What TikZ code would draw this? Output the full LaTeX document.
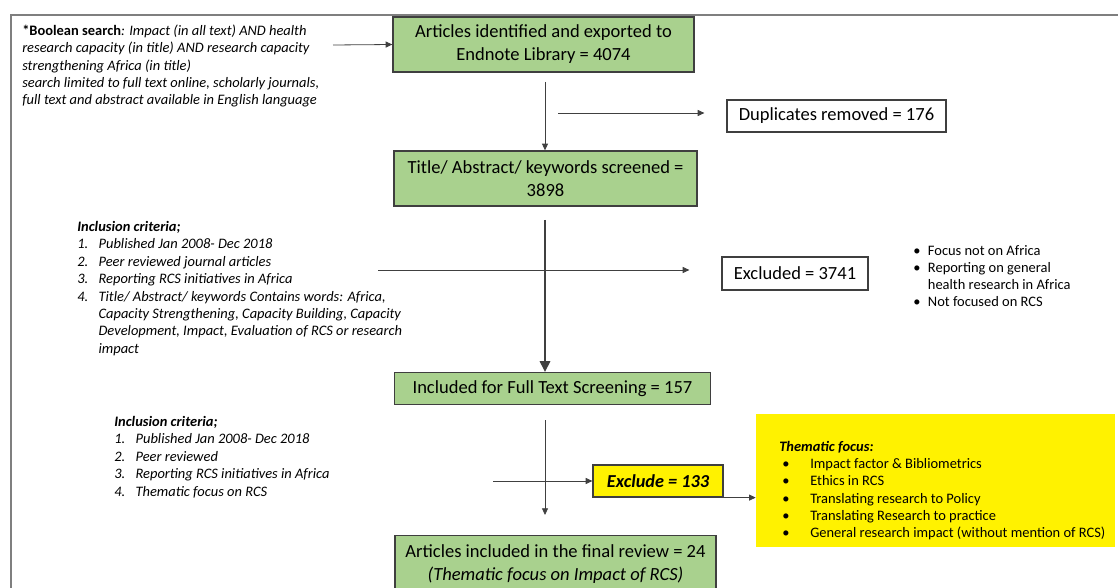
\documentclass[tikz,border=0pt]{standalone}
\usepackage{fontspec}
\setmainfont{Carlito}
\usetikzlibrary{arrows.meta,positioning,calc}
\definecolor{boxgreen}{HTML}{A9D18E}
\definecolor{boxline}{HTML}{3F3F3F}
\definecolor{framegray}{HTML}{7F7F7F}
\newcommand{\critno}[1]{\makebox[16pt][l]{#1}}
\newcommand{\critgap}{\hspace*{16pt}}
\newcommand{\dotitem}{\makebox[11pt][l]{•}}
\newcommand{\themeitem}{\hspace*{2.25pt}\makebox[21pt][l]{•}}
\tikzset{
  stage/.style={draw=boxline, line width=1pt, fill=boxgreen, align=center,
    inner sep=2pt, font=\fontsize{13.9}{17.2}\selectfont},
  tally/.style={draw=boxline, line width=0.9pt, fill=white, inner sep=2pt,
    font=\fontsize{13.9}{17.2}\selectfont},
  dropbox/.style={draw=boxline, line width=0.9pt, fill=yellow, inner sep=2pt,
    font=\fontsize{13.7}{17.2}\selectfont\bfseries\itshape},
  note/.style={anchor=north west, align=left, inner sep=0pt,
    font=\fontsize{10.85}{13.05}\selectfont\itshape},
  plainnote/.style={note, font=\fontsize{10.85}{12.9}\selectfont},
  flow/.style={draw=black!75, line width=0.6pt, -{Triangle[length=5pt,width=4.5pt]}},
  bigflow/.style={draw=black!75, line width=0.9pt, -{Triangle[length=8pt,width=8pt]}},
}

\begin{document}
\begin{tikzpicture}[x=0.75pt,y=-0.75pt]
  \useasboundingbox (0,0) rectangle (1118,588);

  % outer frame
  \draw[framegray, line width=1.2pt] (11,600) -- (11,15) -- (1130,15);

  \node[note] (search) at (22,24.5) {\textbf{\upshape *Boolean search}: Impact (in all text) AND health\\
    research capacity (in title) AND research capacity\\
    strengthening Africa (in title)\\
    search limited to full text online, scholarly journals,\\
    full text and abstract available in English language};

  \node[stage, minimum width=225.75pt, minimum height=41.25pt] (found) at (543.5,44.5)
    {Articles identified and exported to\\Endnote Library = 4074};
  \node[stage, minimum width=227.25pt, minimum height=41.25pt] (screened) at (545.5,178.5)
    {Title/ Abstract/ keywords screened =\\3898};
  \node[tally, minimum width=164.25pt, minimum height=24pt] (dupes) at (836.5,116)
    {Duplicates removed = 176};
  \node[stage, minimum width=237pt, minimum height=24pt] (fulltext) at (552.5,388.5)
    {Included for Full Text Screening = 157};
  \node[tally, minimum width=109.5pt, minimum height=24.75pt] (excluded) at (795,273.5)
    {Excluded = 3741};
  \node[dropbox, minimum width=97.5pt, minimum height=24pt] (dropped) at (658,481)
    {Exclude = 133};
  \node[fill=yellow, minimum width=269.25pt, minimum height=99.75pt] (focus) at (935.5,480.5) {};
  \node[stage, anchor=north, minimum width=240.75pt, minimum height=42.75pt] (final) at (555.5,535)
    {Articles included in the final review = 24\\\textit{(Thematic focus on Impact of RCS)}};

  \node[note] (incl1) at (77,221) {\textbf{Inclusion criteria;}\\
    \critno{1.}Published Jan 2008- Dec 2018\\
    \critno{2.}Peer reviewed journal articles\\
    \critno{3.}Reporting RCS initiatives in Africa\\
    \critno{4.}Title/ Abstract/ keywords Contains words: Africa,\\
    \critgap Capacity Strengthening, Capacity Building, Capacity\\
    \critgap Development, Impact, Evaluation of RCS or research\\
    \critgap impact};
  \node[plainnote] (reasons) at (913,245) {\dotitem Focus not on Africa\\
    \dotitem Reporting on general\\
    \hspace*{11pt}health research in Africa\\
    \dotitem Not focused on RCS};
  \node[note] (incl2) at (114,416) {\textbf{Inclusion criteria;}\\
    \critno{1.}Published Jan 2008- Dec 2018\\
    \critno{2.}Peer reviewed\\
    \critno{3.}Reporting RCS initiatives in Africa\\
    \critno{4.}Thematic focus on RCS};
  \node[plainnote] (themes) at (779,441) {\textbf{\textit{Thematic focus:}}\\
    \themeitem Impact factor \& Bibliometrics\\
    \themeitem Ethics in RCS\\
    \themeitem Translating research to Policy\\
    \themeitem Translating Research to practice\\
    \themeitem General research impact (without mention of RCS)};

  \coordinate (s1) at (333,45);
  \coordinate (f1) at (545,82);
  \coordinate (d1) at (558,113);
  \coordinate (f2) at (545,220);
  \coordinate (e1) at (378,270);
  \coordinate (f3) at (545,420);
  \coordinate (x1) at (493,481);

  \draw[flow] (s1) -- (found.west);
  \draw[flow] (f1) -- (f1 |- screened.north);
  \draw[flow, shorten >=16.5pt] (d1) -- (d1 -| dupes.west);
  \draw[bigflow] (f2) -- (f2 |- fulltext.north);
  \draw[flow, shorten >=24pt] (e1) -- (e1 -| excluded.west);
  \draw[flow, shorten >=15pt] (f3) -- (f3 |- final.north);
  \draw[flow] (x1) -- (dropped.west);
  \draw[flow] (dropped.south east) -- (dropped.south east -| focus.west);
\end{tikzpicture}
\end{document}
